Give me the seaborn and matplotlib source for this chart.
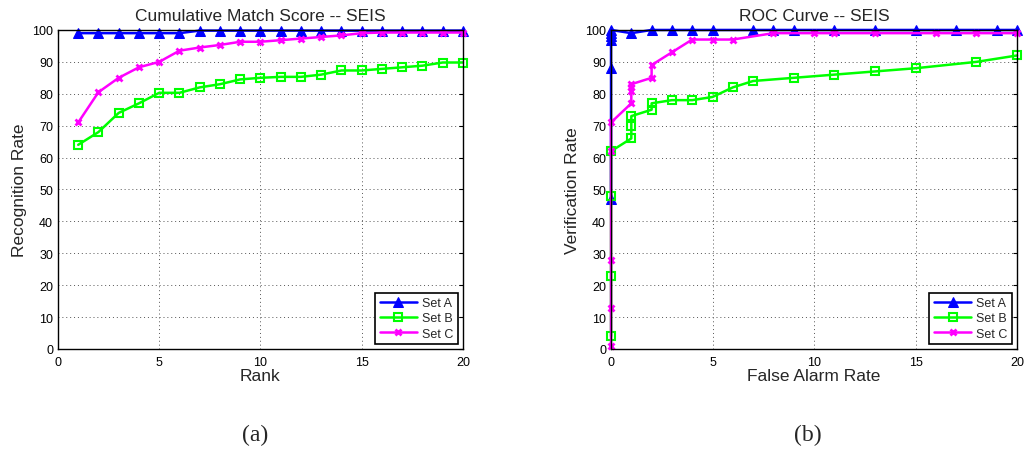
import numpy as np
import pandas as pd
import matplotlib
matplotlib.use('Agg')
import matplotlib.pyplot as plt
import seaborn as sns

# panel (a): cumulative match score
rank = list(range(1, 21))
cms_a = [99.0] * 6 + [99.8] * 14
cms_b = [64, 68, 74, 77, 80.3, 80.3, 82, 83, 84.5, 85, 85.3, 85.3, 86, 87.3, 87.3, 87.8, 88.3, 88.8, 89.8, 89.8]
cms_c = [71, 80.5, 85, 88.3, 90, 93.5, 94.5, 95.3, 96.3, 96.3, 96.8, 97.3, 97.8, 98.3, 99, 99.2, 99.2, 99.2, 99.2, 99.2]

# panel (b): ROC
roc_a_x = [0, 0, 0, 0, 0, 0, 1, 2, 3, 4, 5, 7, 8, 9, 11, 13, 15, 17, 19, 20]
roc_a_y = [47, 88, 97, 98, 99, 100, 99, 100, 100, 100, 100, 100, 100, 100, 100, 100, 100, 100, 100, 100]
roc_b_x = [0, 0, 0, 0, 1, 1, 1, 2, 2, 3, 4, 5, 6, 7, 9, 11, 13, 15, 18, 20]
roc_b_y = [4, 23, 48, 62, 66, 70, 73, 75, 77, 78, 78, 79, 82, 84, 85, 86, 87, 88, 90, 92]
roc_c_x = [0, 0, 0, 0, 0, 1, 1, 1, 1, 2, 2, 3, 4, 5, 6, 8, 10, 11, 13, 16, 18, 20]
roc_c_y = [1, 13, 28, 62, 71, 77, 81, 82, 83, 85, 89, 93, 97, 97, 97, 99, 99, 99, 99, 99, 99, 99]

sets = ['Set A', 'Set B', 'Set C']
colors = {'Set A': '#0000ff', 'Set B': '#00ff00', 'Set C': '#ff00ff'}

cms = pd.concat([
    pd.DataFrame({'x': rank, 'y': cms_a, 'set': 'Set A'}),
    pd.DataFrame({'x': rank, 'y': cms_b, 'set': 'Set B'}),
    pd.DataFrame({'x': rank, 'y': cms_c, 'set': 'Set C'}),
], ignore_index=True)
roc = pd.concat([
    pd.DataFrame({'x': roc_a_x, 'y': roc_a_y, 'set': 'Set A'}),
    pd.DataFrame({'x': roc_b_x, 'y': roc_b_y, 'set': 'Set B'}),
    pd.DataFrame({'x': roc_c_x, 'y': roc_c_y, 'set': 'Set C'}),
], ignore_index=True)

sns.set_style('white')
plt.rcParams['font.family'] = ['Liberation Sans', 'DejaVu Sans']

fig = plt.figure(figsize=(10.24, 4.56), dpi=100)
ax1 = fig.add_axes([0.0566, 0.2325, 0.3955, 0.6996])
ax2 = fig.add_axes([0.5967, 0.2325, 0.3965, 0.6996])

marker_style = {
    'Set A': dict(marker='^', markersize=7, markerfacecolor='#0000ff', markeredgecolor='#0000ff'),
    'Set B': dict(marker='s', markersize=5.5, markerfacecolor='none', markeredgecolor='#00ff00', markeredgewidth=1.5),
    'Set C': dict(marker='x', markersize=4.5, markeredgecolor='#ff00ff', markeredgewidth=2),
}

def draw(ax, df, title, xlabel, ylabel):
    for s in sets:
        sub = df[df['set'] == s]
        sns.lineplot(data=sub, x='x', y='y', ax=ax, color=colors[s], label=s,
                     sort=False, estimator=None, linewidth=1.8, clip_on=False,
                     **marker_style[s])
    ax.set_xlim(0, 20)
    ax.set_ylim(0, 100)
    ax.set_xticks([0, 5, 10, 15, 20])
    ax.set_yticks(np.arange(0, 101, 10))
    ax.grid(True, linestyle=(0, (1, 3)), color='#555555', linewidth=0.7)
    ax.tick_params(direction='in', labelsize=9, length=3, colors='black', top=True, right=True)
    ax.tick_params(axis='x', pad=5)
    for sp in ax.spines.values():
        sp.set_visible(True)
        sp.set_color('black')
        sp.set_linewidth(1.0)
    ax.set_title(title, fontsize=12.5, pad=7)
    ax.set_xlabel(xlabel, fontsize=12.5, labelpad=0)
    ax.set_ylabel(ylabel, fontsize=12.5, labelpad=4)
    leg = ax.legend(loc='lower right', fontsize=9, frameon=True, fancybox=False,
                    edgecolor='black', framealpha=1, borderpad=0.35, labelspacing=0.25,
                    handlelength=3.0, handletextpad=0.4, borderaxespad=0.4)
    leg.get_frame().set_linewidth(1.2)

draw(ax1, cms, 'Cumulative Match Score -- SEIS', 'Rank', 'Recognition Rate')
draw(ax2, roc, 'ROC Curve -- SEIS', 'False Alarm Rate', 'Verification Rate')

fig.text(0.249, 0.044, '(a)', fontsize=17, ha='center', va='center', family=['Liberation Serif', 'DejaVu Serif'])
fig.text(0.789, 0.044, '(b)', fontsize=17, ha='center', va='center', family=['Liberation Serif', 'DejaVu Serif'])

fig.savefig('out.png', dpi=100)
